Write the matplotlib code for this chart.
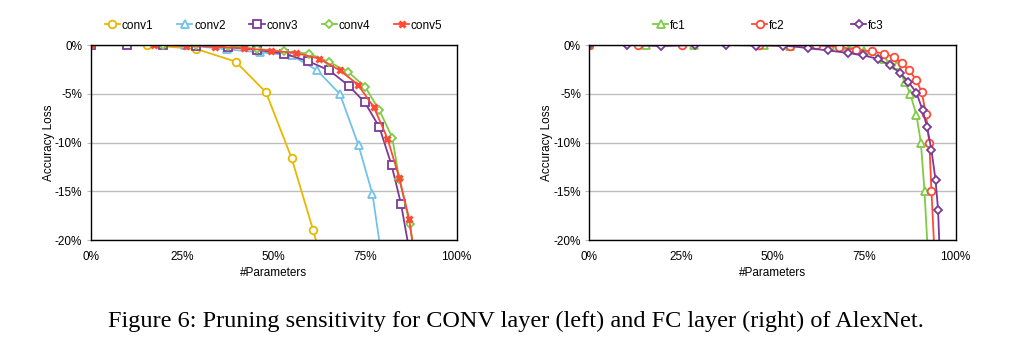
import matplotlib
matplotlib.use("Agg")
import matplotlib.pyplot as plt

# ---- data (percent of parameters kept, accuracy loss in %) ----
conv1_x = [0, 15.3, 28.8, 39.6, 47.9, 54.9, 60.8, 63.0]
conv1_y = [0, 0, -0.4, -1.7, -4.85, -11.6, -19.0, -22.0]

conv2_x = [0, 25.8, 37.2, 46.3, 54.9, 61.9, 68.1, 73.2, 77.0, 80.0]
conv2_y = [0, 0, -0.44, -0.75, -1.06, -2.6, -5.03, -10.3, -15.3, -23.0]

conv3_x = [0, 10, 19.7, 28.8, 37.4, 45.5, 52.9, 59.5, 65.2, 70.5, 74.9, 78.9, 82.2, 84.8, 87.5]
conv3_y = [0, 0, 0, -0.1, -0.2, -0.5, -0.89, -1.67, -2.6, -4.17, -5.88, -8.44, -12.3, -16.3, -22.0]

conv4_x = [0, 19.7, 28.8, 37.4, 45.5, 52.9, 59.7, 65.2, 70.4, 75.0, 78.9, 82.4, 84.3, 87.2, 88.5]
conv4_y = [0, 0, 0, -0.1, -0.4, -0.65, -0.89, -1.74, -2.77, -4.3, -6.7, -9.5, -13.7, -18.4, -21.5]

conv5_x = [0, 17.3, 26, 34, 42, 49.4, 56.1, 62.5, 68.1, 73, 77.4, 81.1, 84.3, 87, 88.6]
conv5_y = [0, 0, -0.05, -0.17, -0.34, -0.58, -0.82, -1.4, -2.6, -4.05, -6.4, -9.6, -13.6, -17.8, -22.0]

fc1_x = [0, 15.5, 28.7, 47.8, 54.7, 61.1, 65.7, 70.2, 75.0, 80.5, 83.9, 86.1, 87.6, 89.3, 90.5, 91.5, 92.5]
fc1_y = [0, 0, 0, 0, -0.1, 0, -0.05, -0.14, -0.6, -1.4, -2.1, -3.76, -5.0, -7.2, -10.0, -15.0, -22.0]

fc2_x = [0, 13.2, 25.3, 46.3, 54.7, 62, 68.1, 72.9, 77.1, 80.5, 83.2, 85.3, 87.3, 89.2, 90.7, 91.9, 92.8, 93.4, 94.3]
fc2_y = [0, 0, 0, 0, -0.1, 0, -0.2, -0.48, -0.65, -0.89, -1.23, -1.85, -2.6, -3.55, -4.8, -7.08, -10.0, -15.0, -22.0]

fc3_x = [0, 10.2, 19.7, 28.8, 37.4, 45.4, 52.9, 59.6, 65.1, 70.5, 74.8, 78.9, 82.1, 84.8, 87.1, 89.3, 91.0, 92.2, 93.4, 94.5, 95.2, 95.8]
fc3_y = [0, 0, -0.1, 0, 0, -0.05, -0.05, -0.3, -0.56, -0.8, -1.06, -1.43, -2.1, -2.85, -3.78, -4.9, -6.7, -8.44, -10.8, -13.8, -16.9, -23.0]

x_ticks = [0, 25, 50, 75, 100]
x_labels = ["0%", "25%", "50%", "75%", "100%"]
y_ticks = [0, -5, -10, -15, -20]
y_labels = ["0%", "-5%", "-10%", "-15%", "-20%"]

caption = "Figure 6: Pruning sensitivity for CONV layer (left) and FC layer (right) of AlexNet."

YELLOW = "#E8B800"
BLUE = "#72C2EA"
PURPLE = "#7B3A96"
GREEN = "#7FCB44"
RED = "#FF4A36"

plt.rcParams['font.family'] = ['Liberation Sans', 'DejaVu Sans']

fig = plt.figure(figsize=(10.13, 3.49), dpi=100)
ax1 = fig.add_axes([0.0895, 0.3123, 0.3613, 0.5587])
ax2 = fig.add_axes([0.5817, 0.3123, 0.3617, 0.5587])

common = dict(lw=1.3, ms=5.5, mew=1.3, mfc="white")

ax1.plot(conv1_x, conv1_y, color=YELLOW, marker="o", label="conv1", **common)
ax1.plot(conv2_x, conv2_y, color=BLUE, marker="^", label="conv2", **common)
ax1.plot(conv3_x, conv3_y, color=PURPLE, marker="s", label="conv3", **common)
ax1.plot(conv4_x, conv4_y, color=GREEN, marker="D", label="conv4",
         lw=1.3, ms=4.5, mew=1.3, mfc="white")
ax1.plot(conv5_x, conv5_y, color=RED, marker="x", label="conv5",
         lw=1.3, ms=5, mew=2.2)

ax2.plot(fc1_x, fc1_y, color=GREEN, marker="^", label="fc1", **common)
ax2.plot(fc2_x, fc2_y, color=RED, marker="o", label="fc2", **common)
ax2.plot(fc3_x, fc3_y, color=PURPLE, marker="D", label="fc3",
         lw=1.3, ms=4.5, mew=1.3, mfc="white")

for ax in (ax1, ax2):
    ax.set_xlim(0, 100)
    ax.set_ylim(-20, 0)
    ax.set_xticks(x_ticks)
    ax.set_xticklabels(x_labels)
    ax.set_yticks(y_ticks)
    ax.set_yticklabels(y_labels)
    ax.tick_params(axis="x", length=0, pad=8, labelsize=8.5)
    ax.tick_params(axis="y", length=3, color="#BBBBBB", pad=3, labelsize=8.5)
    ax.grid(axis="y", color="#BDBDBD", lw=1.0)
    ax.set_axisbelow(True)
    for s in ax.spines.values():
        s.set_color("black")
        s.set_linewidth(1.0)
    ax.set_xlabel("#Parameters", fontsize=8.5, labelpad=3)
    ax.set_ylabel("Accuracy Loss", fontsize=8.5, labelpad=0)

ax1.legend(loc="center", bbox_to_anchor=(0.5, 1.1), ncol=5, frameon=False,
           fontsize=8.5, handlelength=1.3, handletextpad=0.15, columnspacing=2.0,
           borderaxespad=0)
ax2.legend(loc="center", bbox_to_anchor=(0.489, 1.1), ncol=3, frameon=False,
           fontsize=8.5, handlelength=1.3, handletextpad=0.15, columnspacing=5.6,
           borderaxespad=0)

fig.text(0.509, 0.078, caption, ha="center", va="center",
         family=["Liberation Serif", "DejaVu Serif"], fontsize=17.5)

fig.savefig("out.png", dpi=100)
